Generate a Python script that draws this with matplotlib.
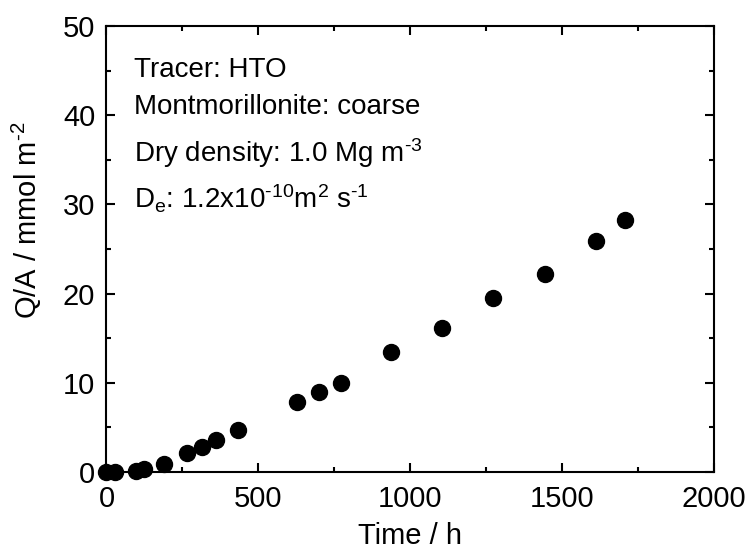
import matplotlib
matplotlib.use("Agg")
import matplotlib.pyplot as plt
from matplotlib.ticker import MultipleLocator

plt.rcParams['font.family'] = ['Liberation Sans', 'DejaVu Sans']
plt.rcParams['mathtext.fontset'] = 'custom'
plt.rcParams['mathtext.rm'] = 'Liberation Sans'
plt.rcParams['mathtext.it'] = 'Liberation Sans'
plt.rcParams['mathtext.default'] = 'regular'

# Data
time_h = [0, 28, 97, 125, 191, 264, 313, 362, 434, 627, 699, 771,
          938, 1106, 1274, 1443, 1611, 1708]
q_per_a = [0.0, 0.0, 0.15, 0.37, 0.9, 2.13, 2.77, 3.62, 4.74, 7.81, 8.97, 10.0,
           13.4, 16.2, 19.5, 22.2, 25.9, 28.25]

info_lines = [
    "Tracer: HTO",
    "Montmorillonite: coarse",
    r"Dry density: 1.0 Mg m$^{\text{-3}}$",
    r"D$_{e}$: 1.2x10$^{\text{-10}}$m$^{2}$ s$^{\text{-1}}$",
]

fig = plt.figure(figsize=(7.54, 5.5), dpi=100)
ax = fig.add_axes([0.1412, 0.1418, 0.8055, 0.8109])

ax.plot(time_h, q_per_a, 'o', color='black', markersize=11.5, clip_on=False, zorder=3)

ax.set_xlim(0, 2000)
ax.set_ylim(0, 50)
ax.xaxis.set_major_locator(MultipleLocator(500))
ax.xaxis.set_minor_locator(MultipleLocator(250))
ax.yaxis.set_major_locator(MultipleLocator(10))
ax.yaxis.set_minor_locator(MultipleLocator(5))

ax.tick_params(which='both', direction='in', top=True, right=True, width=1.5,
               labelsize=21)
ax.tick_params(axis='x', which='major', pad=9)
ax.tick_params(axis='y', which='major', pad=8)
ax.tick_params(which='major', length=6.5)
ax.tick_params(which='minor', length=3.5)
for sp in ax.spines.values():
    sp.set_linewidth(1.5)

ax.set_xlabel("Time / h", fontsize=21, labelpad=7)
ax.set_ylabel(r"Q/A / mmol m$^{\text{-2}}$", fontsize=21)
ax.yaxis.set_label_coords(-0.103, 0.565)

# Annotation block
baselines = [0.886, 0.803, 0.696, 0.591]
for line, yb in zip(info_lines, baselines):
    ax.text(0.045, yb, line, transform=ax.transAxes, fontsize=20, va='baseline', ha='left')

plt.savefig("out.png", dpi=100)
